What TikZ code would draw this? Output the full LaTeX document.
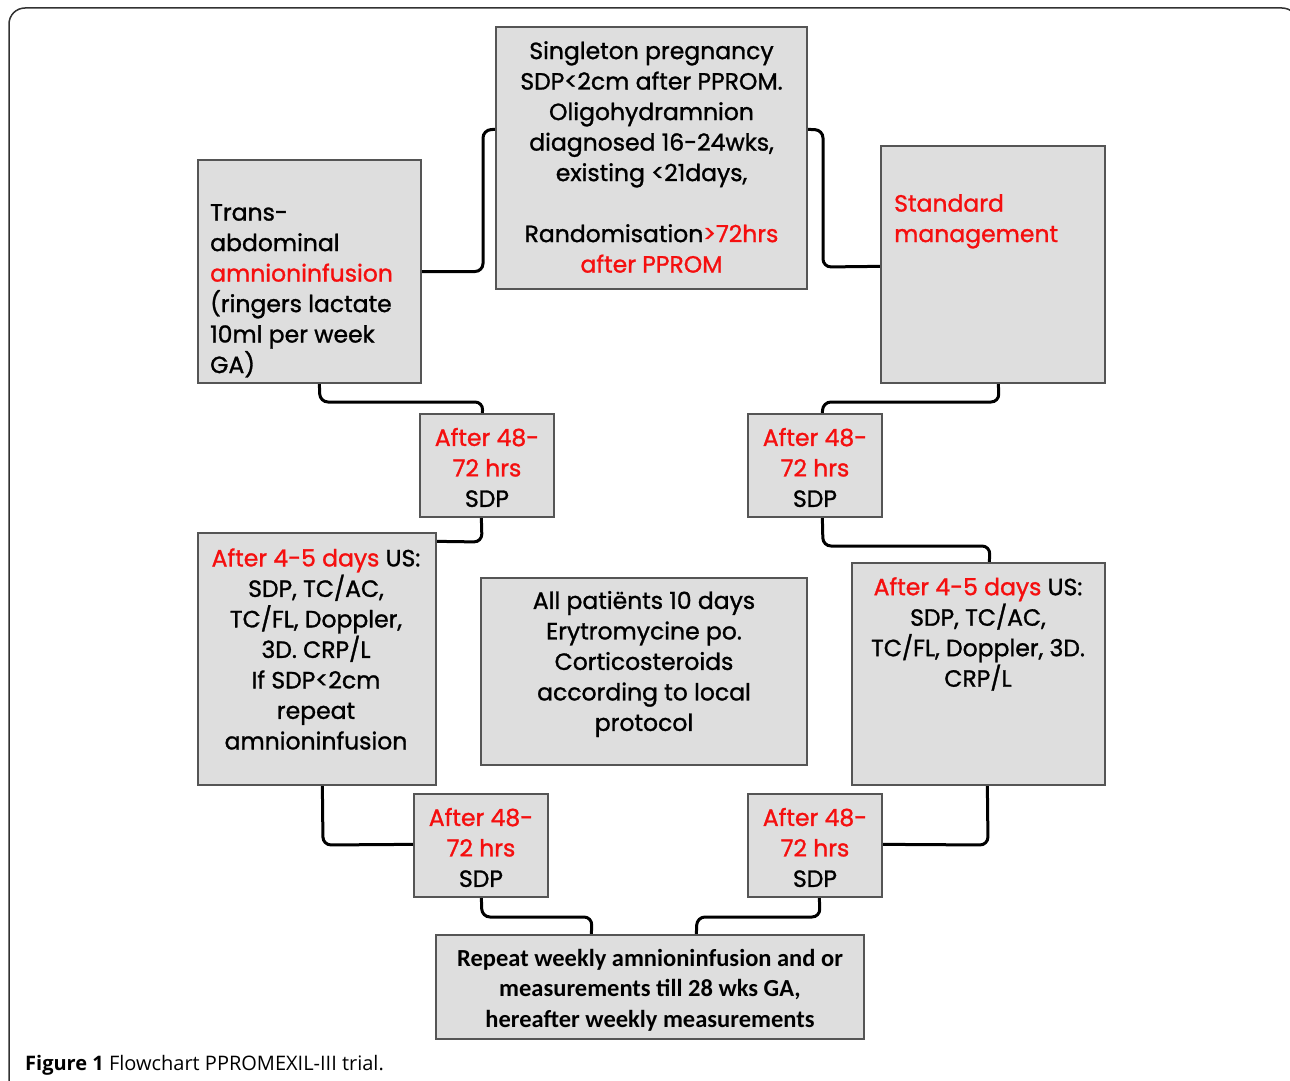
\documentclass[tikz,border=0pt]{standalone}
\usepackage{fontspec}
\setmainfont{Poppins}[FakeBold=1.2]
\newfontfamily\capfont{Open Sans}
\newfontfamily\calfont{Carlito}
\usetikzlibrary{calc,backgrounds}
\definecolor{boxfill}{RGB}{222,222,222}
\definecolor{boxline}{RGB}{85,85,85}
\definecolor{hl}{RGB}{245,15,15}
\definecolor{framec}{RGB}{50,50,50}
\begin{document}
\begin{tikzpicture}[x=1pt,y=-1pt,
  boxst/.style={draw=boxline,fill=boxfill,line width=1.3pt,inner sep=0pt},
  txt/.style={font=\fontsize{23.5}{30.5}\selectfont,align=center,inner sep=0pt,text=black},
  ltxt/.style={font=\fontsize{23.5}{30.5}\selectfont,align=left,inner sep=0pt,text=black,anchor=north west},
  conn/.style={line width=3pt,draw=black,rounded corners=8pt}]
\useasboundingbox (0,0) rectangle (1290,1081);
\draw[framec,line width=1.5pt,rounded corners=16pt] (9,1100) -- (9,8) -- (1298,8) -- (1298,1100);
% boxes
\node[boxst,minimum width=311pt,minimum height=262pt] (top) at (651.5,158) {};
\node[boxst,minimum width=223pt,minimum height=223pt] (tal) at (309.5,271.5) {};
\node[boxst,minimum width=224pt,minimum height=237pt] (std) at (993,264.5) {};
\node[boxst,minimum width=134pt,minimum height=103pt] (L1) at (487,465.5) {};
\node[boxst,minimum width=134pt,minimum height=103pt] (R1) at (815,465.5) {};
\node[boxst,minimum width=238pt,minimum height=252pt] (LB) at (317,659) {};
\node[boxst,minimum width=326pt,minimum height=187pt] (MID) at (644,671.5) {};
\node[boxst,minimum width=253pt,minimum height=222pt] (RB) at (978.5,674) {};
\node[boxst,minimum width=134pt,minimum height=103pt] (L2) at (481,845.5) {};
\node[boxst,minimum width=134pt,minimum height=103pt] (R2) at (815,845.5) {};
\node[boxst,minimum width=428pt,minimum height=104pt] (BOT) at (650,987) {};
% connectors
\begin{scope}[on background layer]
\draw[conn] (tal.east) -- (483,271.5) -- (483,130) -- ($(top.north west)+(0,103)$);
\draw[conn] ($(top.north east)+(0,103)$) -- (823,130) -- (823,267) -- ($(std.north west)+(0,121)$);
\draw[conn] ($(tal.south west)+(122,0)$) -- (320,402) -- (483,402) -- ($(L1.north west)+(63,0)$);
\draw[conn] ($(std.south west)+(118,0)$) -- (999,402) -- (823,402) -- ($(R1.north west)+(75,0)$);
\draw[conn] ($(L1.south west)+(62,0)$) -- (482,542) -- ($(LB.north east)+(0,9)$);
\draw[conn] ($(R1.south west)+(75,0)$) -- (823,546) -- (990,546) -- ($(RB.north west)+(138,0)$);
\draw[conn] ($(LB.south west)+(125,0)$) -- (323,845) -- ($(L2.north west)+(0,51)$);
\draw[conn] ($(R2.north east)+(0,51)$) -- (988,845) -- ($(RB.south west)+(136,0)$);
\draw[conn] ($(L2.south west)+(68,0)$) -- (482,917) -- (592,917) -- ($(BOT.north west)+(156,0)$);
\draw[conn] ($(R2.south west)+(72,0)$) -- (820,917) -- (697,917) -- ($(BOT.north west)+(261,0)$);
\end{scope}
% texts
\node[txt] (ttop) at (651.5,157) {Singleton pregnancy\\SDP<2cm after PPROM.\\Oligohydramnion\\diagnosed 16-24wks,\\existing <21days,\\[30.5pt]Randomisation\textcolor{hl}{>72hrs}\\\textcolor{hl}{after PPROM}};
\node[ltxt] (ttal) at (210,204) {Trans-\\abdominal\\\textcolor{hl}{amnioninfusion}\\(ringers lactate\\10ml per week\\GA)};
\node[ltxt,text=hl] (tstd) at (894,194) {Standard\\management};
\node[txt] (tL1) at (487,467.5) {\textcolor{hl}{After 48-}\\\textcolor{hl}{72 hrs}\\SDP};
\node[txt] (tR1) at (815,467.5) {\textcolor{hl}{After 48-}\\\textcolor{hl}{72 hrs}\\SDP};
\node[txt] (tLB) at (316,649) {\textcolor{hl}{After 4-5 days} US:\\SDP, TC/AC,\\TC/FL, Doppler,\\3D. CRP/L\\If SDP<2cm\\repeat\\amnioninfusion};
\node[txt] (tMID) at (644,664) {All patiënts 10 days\\Erytromycine po.\\Corticosteroids\\according to local\\protocol};
\node[txt] (tRB) at (978,634) {\textcolor{hl}{After 4-5 days} US:\\SDP, TC/AC,\\TC/FL, Doppler, 3D.\\CRP/L};
\node[txt] (tL2) at (481,847.5) {\textcolor{hl}{After 48-}\\\textcolor{hl}{72 hrs}\\SDP};
\node[txt] (tR2) at (815,847.5) {\textcolor{hl}{After 48-}\\\textcolor{hl}{72 hrs}\\SDP};
\node[txt,font=\calfont\bfseries\fontsize{24.5}{30.5}\selectfont] (tBOT) at (650,990) {Repeat weekly amnioninfusion and or\\measurements till 28 wks GA,\\hereafter weekly measurements};
\node[anchor=west,inner sep=0pt,font=\capfont\fontsize{20}{24}\selectfont] (cap) at (25,1065) {\textbf{Figure 1} Flowchart PPROMEXIL-III trial.};
\end{tikzpicture}
\end{document}
